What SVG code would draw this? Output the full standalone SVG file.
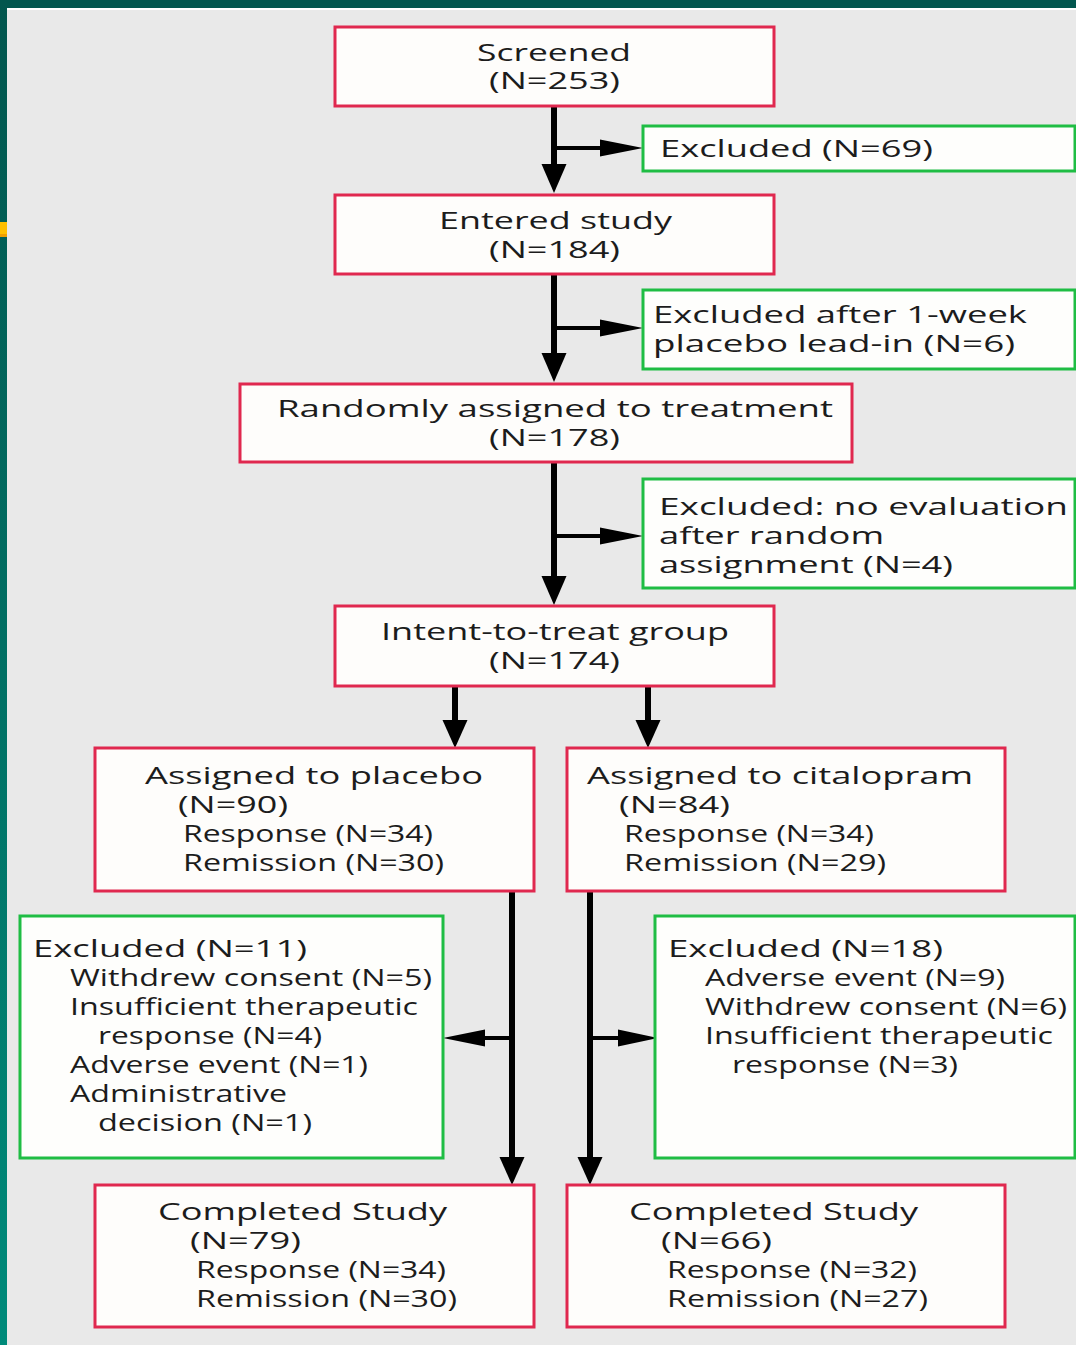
<svg xmlns="http://www.w3.org/2000/svg" width="1076" height="1345" viewBox="0 0 1076 1345">
<defs>
<linearGradient id="side" x1="0" y1="0" x2="0" y2="1">
<stop offset="0" stop-color="#02564e"/>
<stop offset="1" stop-color="#008a7a"/>
</linearGradient>
</defs>
<style>
.bg{fill:#e9e9e9}
.red{fill:#fefdfb;stroke:#e0284f;stroke-width:3}
.grn{fill:#fefefc;stroke:#1fbd44;stroke-width:3}
text{font-family:"Open Sans","Liberation Sans",sans-serif;font-size:24px;fill:#1c1c1c}
.c{text-anchor:middle}
.ln{stroke:#000;fill:none}
.v{stroke-width:6}
.h{stroke-width:4}
.hd{fill:#000}
</style>
<rect class="bg" x="0" y="0" width="1076" height="1345"/>
<rect x="0" y="8" width="1076" height="2" fill="#ffffff"/>
<rect x="0" y="0" width="1076" height="8" fill="#02564e"/>
<rect x="0" y="0" width="7" height="1345" fill="url(#side)"/>
<rect x="0" y="222" width="7" height="12" fill="#ffc000"/>
<rect x="0" y="234" width="7" height="3" fill="#f0a000"/>

<g id="connectors">
<line class="ln v" x1="554" y1="106" x2="554" y2="166"/>
<polygon class="hd" points="541.5,164 566.5,164 554,193"/>
<line class="ln h" x1="554" y1="148" x2="602" y2="148"/>
<polygon class="hd" points="600,139.5 643,148 600,156.5"/>

<line class="ln v" x1="554" y1="274" x2="554" y2="355"/>
<polygon class="hd" points="541.5,353 566.5,353 554,382"/>
<line class="ln h" x1="554" y1="328" x2="602" y2="328"/>
<polygon class="hd" points="600,319.5 643,328 600,336.5"/>

<line class="ln v" x1="554" y1="462" x2="554" y2="578"/>
<polygon class="hd" points="541.5,576 566.5,576 554,605"/>
<line class="ln h" x1="554" y1="536" x2="602" y2="536"/>
<polygon class="hd" points="600,527.5 643,536 600,544.5"/>

<line class="ln v" x1="455" y1="686" x2="455" y2="722"/>
<polygon class="hd" points="442.5,720 467.5,720 455,748"/>
<line class="ln v" x1="648" y1="686" x2="648" y2="722"/>
<polygon class="hd" points="635.5,720 660.5,720 648,748"/>

<line class="ln v" x1="512" y1="891" x2="512" y2="1159"/>
<polygon class="hd" points="499.5,1157 524.5,1157 512,1185"/>
<line class="ln h" x1="512" y1="1038" x2="483" y2="1038"/>
<polygon class="hd" points="485,1029.5 443,1038 485,1046.5"/>

<line class="ln v" x1="590" y1="891" x2="590" y2="1159"/>
<polygon class="hd" points="577.5,1157 602.5,1157 590,1185"/>
<line class="ln h" x1="590" y1="1038" x2="620" y2="1038"/>
<polygon class="hd" points="618,1029.5 658,1038 618,1046.5"/>
</g>

<g id="screened">
<rect class="red" x="335" y="27" width="439" height="79"/>
<text class="c" x="554" y="61" textLength="154" lengthAdjust="spacingAndGlyphs">Screened</text>
<text class="c" x="554.5" y="89" textLength="131" lengthAdjust="spacingAndGlyphs">(N=253)</text>
</g>
<g id="excluded1">
<rect class="grn" x="643" y="126" width="432" height="45"/>
<text x="660" y="157" textLength="273" lengthAdjust="spacingAndGlyphs">Excluded (N=69)</text>
</g>
<g id="entered">
<rect class="red" x="335" y="195" width="439" height="79"/>
<text class="c" x="555.5" y="229" textLength="233" lengthAdjust="spacingAndGlyphs">Entered study</text>
<text class="c" x="554.5" y="258" textLength="131" lengthAdjust="spacingAndGlyphs">(N=184)</text>
</g>
<g id="excluded2">
<rect class="grn" x="643" y="290" width="432" height="79"/>
<text x="653" y="323" textLength="374" lengthAdjust="spacingAndGlyphs">Excluded after 1-week</text>
<text x="653" y="352" textLength="362" lengthAdjust="spacingAndGlyphs">placebo lead-in (N=6)</text>
</g>
<g id="randomized">
<rect class="red" x="240" y="384" width="612" height="78"/>
<text class="c" x="555" y="417" textLength="556" lengthAdjust="spacingAndGlyphs">Randomly assigned to treatment</text>
<text class="c" x="554.5" y="446" textLength="131" lengthAdjust="spacingAndGlyphs">(N=178)</text>
</g>
<g id="excluded3">
<rect class="grn" x="643" y="479" width="432" height="109"/>
<text x="659" y="515" textLength="409" lengthAdjust="spacingAndGlyphs">Excluded: no evaluation</text>
<text x="659" y="544" textLength="225" lengthAdjust="spacingAndGlyphs">after random</text>
<text x="659" y="573" textLength="294" lengthAdjust="spacingAndGlyphs">assignment (N=4)</text>
</g>
<g id="itt">
<rect class="red" x="335" y="606" width="439" height="80"/>
<text class="c" x="555" y="640" textLength="348" lengthAdjust="spacingAndGlyphs">Intent-to-treat group</text>
<text class="c" x="554.5" y="669" textLength="131" lengthAdjust="spacingAndGlyphs">(N=174)</text>
</g>
<g id="placebo">
<rect class="red" x="95" y="748" width="439" height="143"/>
<text x="145" y="784" textLength="338" lengthAdjust="spacingAndGlyphs">Assigned to placebo</text>
<text x="178" y="813" textLength="110" lengthAdjust="spacingAndGlyphs">(N=90)</text>
<text x="183" y="842" textLength="250" lengthAdjust="spacingAndGlyphs">Response (N=34)</text>
<text x="183" y="871" textLength="261" lengthAdjust="spacingAndGlyphs">Remission (N=30)</text>
</g>
<g id="citalopram">
<rect class="red" x="567" y="748" width="438" height="143"/>
<text x="587" y="784" textLength="386" lengthAdjust="spacingAndGlyphs">Assigned to citalopram</text>
<text x="619" y="813" textLength="111" lengthAdjust="spacingAndGlyphs">(N=84)</text>
<text x="624" y="842" textLength="250" lengthAdjust="spacingAndGlyphs">Response (N=34)</text>
<text x="624" y="871" textLength="262" lengthAdjust="spacingAndGlyphs">Remission (N=29)</text>
</g>
<g id="excluded-placebo">
<rect class="grn" x="20" y="916" width="423" height="242"/>
<text x="33" y="957" textLength="274" lengthAdjust="spacingAndGlyphs">Excluded (N=11)</text>
<text x="70" y="986" textLength="362" lengthAdjust="spacingAndGlyphs">Withdrew consent (N=5)</text>
<text x="70" y="1015" textLength="348" lengthAdjust="spacingAndGlyphs">Insufficient therapeutic</text>
<text x="98" y="1044" textLength="224" lengthAdjust="spacingAndGlyphs">response (N=4)</text>
<text x="70" y="1073" textLength="298" lengthAdjust="spacingAndGlyphs">Adverse event (N=1)</text>
<text x="70" y="1102" textLength="217" lengthAdjust="spacingAndGlyphs">Administrative</text>
<text x="98" y="1131" textLength="214" lengthAdjust="spacingAndGlyphs">decision (N=1)</text>
</g>
<g id="excluded-citalopram">
<rect class="grn" x="655" y="916" width="420" height="242"/>
<text x="668" y="957" textLength="275" lengthAdjust="spacingAndGlyphs">Excluded (N=18)</text>
<text x="705" y="986" textLength="300" lengthAdjust="spacingAndGlyphs">Adverse event (N=9)</text>
<text x="705" y="1015" textLength="362" lengthAdjust="spacingAndGlyphs">Withdrew consent (N=6)</text>
<text x="705" y="1044" textLength="348" lengthAdjust="spacingAndGlyphs">Insufficient therapeutic</text>
<text x="732" y="1073" textLength="226" lengthAdjust="spacingAndGlyphs">response (N=3)</text>
</g>
<g id="completed-placebo">
<rect class="red" x="95" y="1185" width="439" height="142"/>
<text x="158" y="1220" textLength="289" lengthAdjust="spacingAndGlyphs">Completed Study</text>
<text x="190" y="1249" textLength="111" lengthAdjust="spacingAndGlyphs">(N=79)</text>
<text x="196" y="1278" textLength="250" lengthAdjust="spacingAndGlyphs">Response (N=34)</text>
<text x="196" y="1307" textLength="261" lengthAdjust="spacingAndGlyphs">Remission (N=30)</text>
</g>
<g id="completed-citalopram">
<rect class="red" x="567" y="1185" width="438" height="142"/>
<text x="629" y="1220" textLength="289" lengthAdjust="spacingAndGlyphs">Completed Study</text>
<text x="661" y="1249" textLength="111" lengthAdjust="spacingAndGlyphs">(N=66)</text>
<text x="667" y="1278" textLength="250" lengthAdjust="spacingAndGlyphs">Response (N=32)</text>
<text x="667" y="1307" textLength="261" lengthAdjust="spacingAndGlyphs">Remission (N=27)</text>
</g>
</svg>
